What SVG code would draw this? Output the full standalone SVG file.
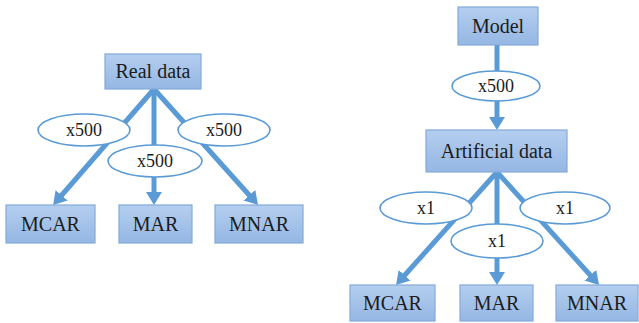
<svg xmlns="http://www.w3.org/2000/svg" width="639" height="323" viewBox="0 0 639 323">
<defs>
<linearGradient id="bg" x1="0" y1="0" x2="0" y2="1">
<stop offset="0" stop-color="#b4ceef"/>
<stop offset="1" stop-color="#95b7e3"/>
</linearGradient>
<marker id="ah" markerUnits="userSpaceOnUse" markerWidth="14" markerHeight="16" refX="1" refY="8" orient="auto" viewBox="0 0 14 16">
<path d="M0,0 L13,8 L0,16 z" fill="#5b9bd5"/>
</marker>
<style>
.box{fill:url(#bg);stroke:#84aada;stroke-width:1.2}
.ell{fill:#ffffff;stroke:#5b9bd5;stroke-width:1.6}
.ln{stroke:#5b9bd5;stroke-width:5;fill:none;marker-end:url(#ah)}
text{font-family:"Liberation Serif","Times New Roman",Tinos,"Noto Serif","Nimbus Roman","FreeSerif","DejaVu Serif",Times,serif;fill:#1c1c1c;text-anchor:middle}
.bt{font-size:20px}
.et{font-size:18px}
</style>
</defs>
<rect width="639" height="323" fill="#ffffff"/>
<g id="connectors">
<line class="ln" x1="154" y1="89" x2="61" y2="196"/>
<line class="ln" x1="154" y1="89" x2="154" y2="193"/>
<line class="ln" x1="154" y1="89" x2="250" y2="196"/>
<line class="ln" x1="497" y1="45" x2="497" y2="118"/>
<line class="ln" x1="497" y1="172" x2="404" y2="276"/>
<line class="ln" x1="497" y1="172" x2="497" y2="273"/>
<line class="ln" x1="497" y1="172" x2="591" y2="276"/>
</g>
<g id="real-data"><rect class="box" x="105" y="54" width="96" height="35"/><text class="bt" x="153" y="78">Real data</text></g>
<g id="label-l1"><ellipse class="ell" cx="84" cy="130" rx="46" ry="16"/><text class="et" x="84" y="136">x500</text></g>
<g id="label-l2"><ellipse class="ell" cx="155" cy="161" rx="47" ry="16"/><text class="et" x="155" y="167">x500</text></g>
<g id="label-l3"><ellipse class="ell" cx="224" cy="130" rx="46" ry="16"/><text class="et" x="224" y="136">x500</text></g>
<g id="mcar-l"><rect class="box" x="6" y="205" width="89" height="38"/><text class="bt" x="50.5" y="231">MCAR</text></g>
<g id="mar-l"><rect class="box" x="119" y="205" width="73" height="38"/><text class="bt" x="155.5" y="231">MAR</text></g>
<g id="mnar-l"><rect class="box" x="215" y="205" width="88" height="38"/><text class="bt" x="259" y="231">MNAR</text></g>
<g id="model"><rect class="box" x="458" y="7" width="80" height="38"/><text class="bt" x="498" y="33">Model</text></g>
<g id="label-r0"><ellipse class="ell" cx="496" cy="86" rx="44" ry="15"/><text class="et" x="496" y="92">x500</text></g>
<g id="artificial-data"><rect class="box" x="426" y="130" width="141" height="42"/><text class="bt" x="496.5" y="158">Artificial data</text></g>
<g id="label-r1"><ellipse class="ell" cx="426" cy="208" rx="46" ry="16"/><text class="et" x="426" y="214">x1</text></g>
<g id="label-r2"><ellipse class="ell" cx="497" cy="241" rx="46" ry="17"/><text class="et" x="497" y="247">x1</text></g>
<g id="label-r3"><ellipse class="ell" cx="565" cy="208" rx="45" ry="16"/><text class="et" x="565" y="214">x1</text></g>
<g id="mcar-r"><rect class="box" x="350" y="285" width="85" height="36"/><text class="bt" x="392.5" y="310">MCAR</text></g>
<g id="mar-r"><rect class="box" x="460" y="285" width="73" height="36"/><text class="bt" x="496.5" y="310">MAR</text></g>
<g id="mnar-r"><rect class="box" x="556" y="285" width="82" height="36"/><text class="bt" x="597" y="310">MNAR</text></g>
</svg>
